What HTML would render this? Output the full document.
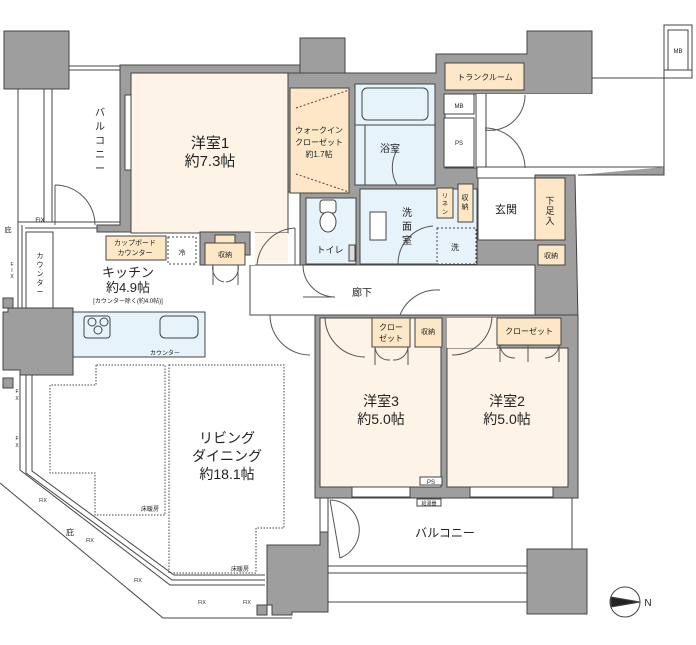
<!DOCTYPE html>
<html><head><meta charset="utf-8"><style>
html,body{margin:0;padding:0;background:#fff;}
svg{display:block;font-family:"Liberation Sans","Noto Sans CJK JP",sans-serif;}
</style></head><body>
<svg width="696" height="645" viewBox="0 0 696 645" xmlns="http://www.w3.org/2000/svg">
<g stroke="#444" stroke-width="1">
<!-- top-left pillar -->
<rect x="4" y="31" width="65" height="58" fill="#9e9e9e"/>
<!-- left balcony -->
<line x1="18" y1="89" x2="18" y2="225" fill="none"/>
<line x1="44" y1="89" x2="44" y2="222" fill="none"/>
<line x1="52" y1="89" x2="52" y2="222" fill="none"/>
<rect x="69" y="66" width="51" height="4" fill="#fff"/>
<line x1="18" y1="222" x2="120" y2="222"/>
<line x1="25" y1="228" x2="100" y2="228"/>
<rect x="26" y="232" width="27" height="80" fill="#fff"/>
<line x1="18" y1="225" x2="18" y2="310"/>
<line x1="22" y1="225" x2="22" y2="310"/>
<rect x="3" y="298" width="10" height="10" fill="#9e9e9e"/>
<!-- walls gray background for rooms -->
<path d="M120 65 L300 65 L300 38 L345 38 L345 73 L300 73 L300 73 Z" fill="#9e9e9e"/>
<path d="M120 65 L300 65 L300 73 L131 73 L131 95 L125 95 L125 170 L131 170 L131 232 L97 232 L97 225 L120 225 Z" fill="#9e9e9e"/>
<rect x="131" y="73" width="157" height="160" fill="#fdf3e6"/>
<rect x="255" y="233" width="33" height="30" fill="#fdf3e6" stroke="none"/>
<!-- gray wall block around bath etc -->
<path d="M288 73 L436 73 L436 54 L527 54 L527 31 L592 31 L592 94 L445 94 L445 168 L477 168 L477 178 L535 178 L535 175 L575 175 L578 320 L535 320 L535 265 L480 265 L300 265 L300 192 L288 192 Z" fill="#9e9e9e"/>
<rect x="290" y="88" width="59" height="105" fill="#fde7c7"/>
<line x1="296" y1="108" x2="349" y2="90" stroke-dasharray="2,2"/>
<line x1="296" y1="174" x2="349" y2="192" stroke-dasharray="2,2"/>
<rect x="355" y="84" width="80" height="101" fill="#e6f3fb"/>
<rect x="362" y="88" width="66" height="32" rx="5" fill="#e6f3fb"/>
<line x1="355" y1="125" x2="435" y2="125"/>
<line x1="365" y1="125" x2="365" y2="185"/>
<rect x="306" y="198" width="50" height="66" fill="#e6f3fb"/>
<rect x="320" y="200" width="16" height="13" rx="3" fill="#fff"/>
<ellipse cx="328" cy="222" rx="8" ry="10" fill="#fff"/>
<rect x="349" y="245" width="6" height="16" fill="#ddd"/>
<rect x="360" y="189" width="117" height="75" fill="#e6f3fb"/>
<rect x="370" y="212" width="16" height="28" fill="#fff"/>
<rect x="437" y="228" width="39" height="36" fill="#e6f3fb" stroke-dasharray="2,2"/>
<rect x="437" y="188" width="16" height="30" fill="#fde7c7"/>
<rect x="458" y="184" width="15" height="38" fill="#fde7c7"/>
<rect x="445" y="63" width="79" height="27" fill="#fde7c7"/>
<rect x="444" y="94" width="30" height="20" fill="#fff"/>
<rect x="444" y="118" width="30" height="49" fill="#fff"/>
<rect x="476" y="94" width="117" height="72" fill="#fff" stroke="none"/>
<line x1="476" y1="94" x2="476" y2="167"/>
<line x1="486" y1="94" x2="486" y2="167"/>
<line x1="476" y1="167" x2="664" y2="167"/>
<path d="M592 78 L664 78 L664 70 L692 70 L692 78 L664 78" fill="none"/>
<rect x="664" y="25" width="28" height="45" fill="#fff"/>
<rect x="668" y="30" width="20" height="40" fill="#fff"/>
<rect x="535" y="175" width="43" height="0" fill="none"/>
<path d="M578 175 L664 175 L664 78" fill="none" stroke-width="1"/>
<path d="M664 167 L664 175 L578 175" fill="#9e9e9e"/>
<rect x="478" y="178" width="57" height="62" fill="#fff"/>
<rect x="535" y="178" width="30" height="62" fill="#fde7c7"/>
<rect x="538" y="245" width="27" height="20" fill="#fde7c7"/>
<!-- corridor -->
<rect x="250" y="265" width="285" height="50" fill="#fff"/>
<rect x="200" y="232" width="55" height="33" fill="#fff" stroke="none"/>
<!-- kitchen -->
<rect x="106" y="236" width="60" height="24" fill="#fde7c7"/>
<rect x="168" y="237" width="28" height="27" fill="#fff" stroke-dasharray="2,2"/>
<path d="M200 232 L250 232 L250 255 L245 255 L245 265 L200 265 Z" fill="#9e9e9e"/>
<rect x="205" y="243" width="40" height="22" fill="#fde7c7"/>
<rect x="215" y="235" width="20" height="8" fill="#fde7c7"/>
<rect x="73" y="312" width="132" height="45" fill="#e6f3fb"/>
<rect x="84" y="316" width="26" height="22" rx="3" fill="#e6f3fb"/>
<circle cx="92" cy="322" r="4" fill="none"/><circle cx="104" cy="322" r="4" fill="none"/><circle cx="98" cy="330" r="4" fill="none"/>
<rect x="160" y="316" width="38" height="22" rx="5" fill="#e6f3fb"/>
<path d="M3 312 L8 312 L8 308 L73 308 L73 375 L20 375 L20 370 L3 370 Z" fill="#9e9e9e"/>
<rect x="3" y="378" width="10" height="10" fill="#9e9e9e"/>
<!-- LD outline and windows -->
<path d="M20 375 L20 470 L170 585 L265 585" fill="none"/>
<path d="M26 375 L26 473 L172 580 L265 580" fill="none"/>
<path d="M32 375 L32 471 L174 575 L265 575" fill="none"/>
<path d="M0 483 L163 618 L292 618" fill="none"/>
<path d="M96 365 L96 385 L50 385 L50 473 L95 473 L95 515 L165 515 L165 365 Z" fill="none" stroke-dasharray="1.5,1.5"/>
<path d="M169 365 L284 365 L284 528 L256 528 L256 573 L169 573 Z" fill="none" stroke-dasharray="1.5,1.5"/>
<!-- pillars bottom -->
<path d="M267 545 L320 545 L320 532 L328 532 L328 612 L292 612 L292 615 L272 615 L272 605 L267 605 Z" fill="#9e9e9e"/>
<rect x="257" y="605" width="10" height="10" fill="#9e9e9e"/>
<rect x="527" y="549" width="60" height="65" fill="#9e9e9e"/>
<!-- bedrooms wall -->
<path d="M315 315 L578 315 L578 498 L315 498 Z" fill="#9e9e9e"/>
<rect x="320" y="318" width="121" height="169" fill="#fdf3e6"/>
<rect x="447" y="348" width="121" height="139" fill="#fdf3e6"/>
<rect x="447" y="318" width="50" height="30" fill="#fdf3e6" stroke="none"/>
<rect x="372" y="318" width="38" height="29" fill="#fde7c7"/>
<rect x="415" y="318" width="27" height="29" fill="#fde7c7"/>
<rect x="497" y="318" width="64" height="27" fill="#fde7c7"/>
<rect x="352" y="487" width="58" height="10" fill="#fff"/>
<rect x="470" y="487" width="83" height="10" fill="#fff"/>
<rect x="420" y="477" width="22" height="8" fill="#fff"/>
<rect x="417" y="499" width="24" height="7" fill="#fff"/>
<!-- bottom balcony -->
<line x1="320" y1="498" x2="320" y2="532"/>
<line x1="328" y1="498" x2="328" y2="532"/>
<line x1="572" y1="498" x2="572" y2="549"/>
<line x1="328" y1="566" x2="527" y2="566"/>
<line x1="328" y1="573" x2="527" y2="573"/>
<line x1="328" y1="602" x2="527" y2="602"/>
<!-- doors -->
<g fill="none" stroke="#555">
<path d="M55 185 A40 40 0 0 1 95 225 M55 185 L55 225"/>
<path d="M295 228 A40 40 0 0 0 257 265 M295 228 L295 265"/>
<path d="M270 315 A40 40 0 0 0 310 355"/>
<path d="M440 290 A40 40 0 0 0 400 315"/>
<path d="M325 317 A40 40 0 0 0 365 357"/>
<path d="M492 317 A40 40 0 0 1 452 355"/>
<path d="M330 500 A30 30 0 0 1 340 558 L330 500"/>
<path d="M397 150 A35 35 0 0 0 397 185"/>
<path d="M433 226 A38 38 0 0 0 398 264"/>
<path d="M485 128 A40 40 0 0 1 525 168"/>
<path d="M525 95 A35 35 0 0 1 485 130"/>
<path d="M303 265 A32 32 0 0 0 335 297 L303 297"/>
<path d="M213 265 L213 285 M213 265 A14 14 0 0 0 224 282 M238 265 L238 285 M238 265 A14 14 0 0 1 226 282"/>
<path d="M375 347 L375 365 M375 347 A14 14 0 0 0 390 360 M408 347 L408 365 M408 347 A14 14 0 0 1 393 360"/>
<path d="M500 345 L500 362 M500 345 A14 14 0 0 0 515 358 M559 345 L559 362 M559 345 A14 14 0 0 1 545 358 M528 345 L528 362"/>
</g>
<!-- compass -->
<circle cx="625" cy="602" r="15" fill="#fff"/>
<path d="M611 597 L640 602 L611 607 Z" fill="#222"/>
</g>
<g fill="#222" text-anchor="middle">
<text x="210" y="148" font-size="15">洋室1</text>
<text x="210" y="166" font-size="15">約7.3帖</text>
<text x="319" y="133" font-size="8">ウォークイン</text>
<text x="319" y="145" font-size="8">クローゼット</text>
<text x="319" y="157" font-size="8">約1.7帖</text>
<text x="390" y="152" font-size="10">浴室</text>
<text x="330" y="253" font-size="9">トイレ</text>
<text x="407" y="216" font-size="10">洗</text>
<text x="407" y="230" font-size="10">面</text>
<text x="407" y="244" font-size="10">室</text>
<text x="485" y="80" font-size="8">トランクルーム</text>
<text x="459" y="108" font-size="6">MB</text>
<text x="459" y="145" font-size="6">PS</text>
<text x="678" y="53" font-size="6">MB</text>
<text x="506" y="213" font-size="11">玄関</text>
<text x="550" y="204" font-size="9">下</text><text x="550" y="214" font-size="9">足</text><text x="550" y="224" font-size="9">入</text>
<text x="465" y="200" font-size="7">収</text><text x="465" y="209" font-size="7">納</text>
<text x="445" y="198" font-size="6">リ</text><text x="445" y="206" font-size="6">ネ</text><text x="445" y="214" font-size="6">ン</text>
<text x="455" y="250" font-size="8">洗</text>
<text x="551" y="258" font-size="7">収納</text>
<text x="100" y="116" font-size="10">バ</text><text x="100" y="130" font-size="10">ル</text><text x="100" y="144" font-size="10">コ</text><text x="100" y="158" font-size="10">ニ</text><text x="100" y="172" font-size="10">ー</text>
<text x="40" y="222" font-size="6">FIX</text>
<text x="8" y="232" font-size="7">庇</text>
<text x="40" y="258" font-size="7">カ</text><text x="40" y="267" font-size="7">ウ</text><text x="40" y="276" font-size="7">ン</text><text x="40" y="285" font-size="7">タ</text><text x="40" y="294" font-size="7">ー</text>
<text x="12" y="266" font-size="5">F</text><text x="12" y="272" font-size="5">I</text><text x="12" y="278" font-size="5">X</text>
<text x="135" y="245" font-size="7">カップボード</text>
<text x="135" y="255" font-size="7">カウンター</text>
<text x="182" y="255" font-size="7">冷</text>
<text x="225" y="257" font-size="7">収納</text>
<text x="128" y="277" font-size="13">キッチン</text>
<text x="128" y="292" font-size="13">約4.9帖</text>
<text x="128" y="303" font-size="6">[カウンター除く(約4.0帖)]</text>
<text x="165" y="355" font-size="6">カウンター</text>
<text x="227" y="443" font-size="14">リビング</text>
<text x="227" y="461" font-size="14">ダイニング</text>
<text x="227" y="479" font-size="14">約18.1帖</text>
<text x="150" y="511" font-size="6">床暖房</text>
<text x="240" y="571" font-size="6">床暖房</text>
<text x="70" y="535" font-size="8">庇</text>
<text x="43" y="502" font-size="5">FIX</text>
<text x="90" y="542" font-size="5">FIX</text>
<text x="138" y="582" font-size="5">FIX</text>
<text x="202" y="604" font-size="5">FIX</text>
<text x="247" y="604" font-size="5">FIX</text>
<text x="17" y="393" font-size="5">F</text><text x="17" y="400" font-size="5">X</text>
<text x="17" y="440" font-size="5">F</text><text x="17" y="447" font-size="5">X</text>
<text x="362" y="296" font-size="10">廊下</text>
<text x="382" y="370" font-size="0"></text>
<text x="391" y="330" font-size="8">クロー</text>
<text x="391" y="341" font-size="8">ゼット</text>
<text x="428" y="334" font-size="7">収納</text>
<text x="529" y="334" font-size="8">クローゼット</text>
<text x="381" y="406" font-size="14">洋室3</text>
<text x="381" y="424" font-size="14">約5.0帖</text>
<text x="507" y="406" font-size="14">洋室2</text>
<text x="507" y="424" font-size="14">約5.0帖</text>
<text x="431" y="484" font-size="6">PS</text>
<text x="429" y="505" font-size="5">給湯器</text>
<text x="445" y="537" font-size="12">バルコニー</text>
<text x="648" y="606" font-size="10">N</text>
</g>
</svg>
</body></html>
